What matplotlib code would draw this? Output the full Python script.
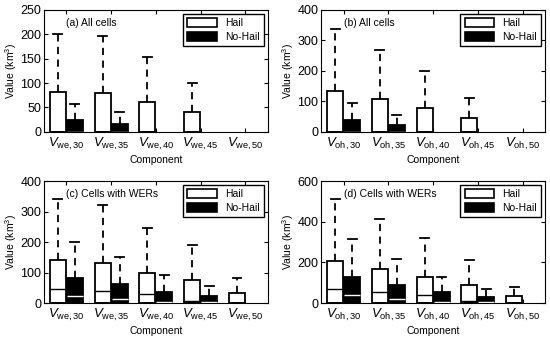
import matplotlib
matplotlib.use("Agg")
import matplotlib.pyplot as plt
from matplotlib.patches import Patch

plt.rcParams['font.family'] = ['Liberation Sans', 'DejaVu Sans']
plt.rcParams['mathtext.fontset'] = 'custom'
plt.rcParams['mathtext.rm'] = 'Liberation Sans'
plt.rcParams['mathtext.it'] = 'Liberation Sans:italic'

levels = ["30", "35", "40", "45", "50"]

# (a) all cells, V_we  (q3, whisker top); lower quartile / whisker at 0
a_hail_q3 = [81, 79, 62, 41, 0]
a_hail_hi = [201, 197, 154, 100, 0]
a_nohail_q3 = [24, 17, 0, 0, 0]
a_nohail_hi = [58, 40, 0, 0, 0]

# (b) all cells, V_oh
b_hail_q3 = [134, 107, 79, 45, 0]
b_hail_hi = [337, 269, 198, 110, 0]
b_nohail_q3 = [38, 24, 0, 0, 0]
b_nohail_hi = [93, 56, 0, 0, 0]

# (c) cells with WERs, V_we
c_hail_q3 = [141, 130, 99, 76, 34]
c_hail_med = [45, 38, 31, 6, 1]
c_hail_hi = [342, 320, 247, 189, 83]
c_nohail_q3 = [82, 62, 37, 23, 0]
c_nohail_med = [23, 12, 4, 3, 0]
c_nohail_hi = [201, 152, 93, 56, 0]

# (d) cells with WERs, V_oh
d_hail_q3 = [207, 166, 130, 89, 33]
d_hail_med = [69, 54, 41, 8, 1]
d_hail_hi = [513, 411, 321, 211, 77]
d_nohail_q3 = [130, 89, 52, 30, 0]
d_nohail_med = [39, 18, 6, 3, 0]
d_nohail_hi = [316, 215, 127, 70, 0]


def stats(q3, hi, med=None):
    out = []
    for i in range(len(q3)):
        m = med[i] if med is not None else 0
        out.append(dict(med=m, q1=0, q3=q3[i], whislo=0, whishi=hi[i], fliers=[]))
    return out


def panel(ax, hail, nohail, comp, ymax, yticks, title):
    pos = list(range(1, len(levels) + 1))
    w = 0.36
    common = dict(widths=w, capwidths=w * 0.55, patch_artist=True,
                  showfliers=False,
                  whiskerprops=dict(color='black', lw=1.3, linestyle=(0, (4, 3))),
                  capprops=dict(color='black', lw=1.3))
    hs = [s for s in hail if s['whishi'] > 0]
    hp = [p - 0.19 for p, s in zip(pos, hail) if s['whishi'] > 0]
    ns = [s for s in nohail if s['whishi'] > 0]
    npos = [p + 0.19 for p, s in zip(pos, nohail) if s['whishi'] > 0]
    ax.bxp(hs, positions=hp,
           boxprops=dict(facecolor='white', edgecolor='black', lw=1.3),
           medianprops=dict(color='black', lw=1.0), **common)
    ax.bxp(ns, positions=npos,
           boxprops=dict(facecolor='black', edgecolor='black', lw=1.3),
           medianprops=dict(color='white', lw=1.0), **common)
    ax.set_xlim(0.5, 5.5)
    ax.set_ylim(0, ymax)
    ax.set_xticks(pos)
    ax.set_xticklabels([r'$V_{\mathrm{%s,%s}}$' % (comp, l) for l in levels], fontsize=9.5)
    ax.set_yticks(yticks)
    ax.tick_params(axis='y', labelsize=9, pad=2)
    ax.tick_params(direction='in', top=True, right=True, length=3, width=0.8)
    ax.tick_params(axis='x', pad=3)
    ax.set_xlabel("Component", fontsize=7.5, labelpad=2)
    ax.set_ylabel(r"Value (km$^3$)", fontsize=7.5, labelpad=1)
    ax.text(0.1, 0.89, title, transform=ax.transAxes, fontsize=7.5, va='center')
    handles = [Patch(facecolor='white', edgecolor='black', lw=1.2, label='Hail'),
               Patch(facecolor='black', edgecolor='black', lw=1.2, label='No-Hail')]
    leg = ax.legend(handles=handles, loc='upper right', fontsize=7.5, fancybox=False,
                    framealpha=1, edgecolor='black', handlelength=2.8, handleheight=0.9,
                    borderaxespad=0.4, labelspacing=0.35)
    leg.get_frame().set_linewidth(1.0)


fig = plt.figure(figsize=(5.5, 3.39), dpi=100)
ax_a = fig.add_axes([0.08, 0.611, 0.407, 0.360])
ax_b = fig.add_axes([0.584, 0.611, 0.407, 0.360])
ax_c = fig.add_axes([0.08, 0.106, 0.407, 0.360])
ax_d = fig.add_axes([0.584, 0.106, 0.407, 0.360])

panel(ax_a, stats(a_hail_q3, a_hail_hi), stats(a_nohail_q3, a_nohail_hi),
      'we', 250, [0, 50, 100, 150, 200, 250], "(a) All cells")
panel(ax_b, stats(b_hail_q3, b_hail_hi), stats(b_nohail_q3, b_nohail_hi),
      'oh', 400, [0, 100, 200, 300, 400], "(b) All cells")
panel(ax_c, stats(c_hail_q3, c_hail_hi, c_hail_med), stats(c_nohail_q3, c_nohail_hi, c_nohail_med),
      'we', 400, [0, 100, 200, 300, 400], "(c) Cells with WERs")
panel(ax_d, stats(d_hail_q3, d_hail_hi, d_hail_med), stats(d_nohail_q3, d_nohail_hi, d_nohail_med),
      'oh', 600, [0, 200, 400, 600], "(d) Cells with WERs")

fig.savefig("out.png", dpi=100)
